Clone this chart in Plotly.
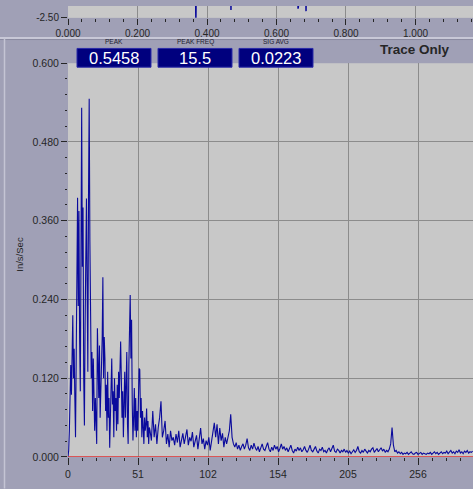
import numpy as np
import plotly.graph_objects as go

# ---------------- data ----------------
# spectrum, fine part (0.5 step from 0 to 59.5)
amp_lo = [
    0.000, 0.010, 0.040, 0.075, 0.140, 0.095, 0.180, 0.216, 0.120, 0.165,
    0.090, 0.030, 0.150, 0.260, 0.395, 0.230, 0.375, 0.180, 0.100, 0.310,
    0.532, 0.290, 0.380, 0.120, 0.048, 0.200, 0.290, 0.394, 0.260, 0.130,
    0.398, 0.5458, 0.330, 0.210, 0.120, 0.160, 0.070, 0.150, 0.110, 0.040,
    0.090, 0.060, 0.020, 0.196, 0.150, 0.090, 0.170, 0.060, 0.100, 0.140,
    0.180, 0.274, 0.120, 0.183, 0.150, 0.070, 0.110, 0.040, 0.130, 0.060,
    0.090, 0.014, 0.060, 0.120, 0.150, 0.080, 0.100, 0.030, 0.120, 0.070,
    0.090, 0.040, 0.110, 0.050, 0.130, 0.090, 0.140, 0.176, 0.120, 0.060,
    0.100, 0.030, 0.080, 0.130, 0.060, 0.100, 0.160, 0.050, 0.020, 0.140,
    0.200, 0.247, 0.150, 0.209, 0.080, 0.025, 0.060, 0.105, 0.040, 0.090,
    0.030, 0.070, 0.040, 0.100, 0.135, 0.133, 0.060, 0.090, 0.030, 0.070,
    0.050, 0.020, 0.060, 0.040, 0.050, 0.074, 0.030, 0.055, 0.020, 0.045,
]
# spectrum, coarse part (1.0 step from 60)
amp_hi = [
    0.040, 0.025, 0.070, 0.030, 0.050, 0.020, 0.045, 0.060, 0.085, 0.030,
    0.040, 0.055, 0.020, 0.035, 0.015, 0.040, 0.025, 0.030, 0.018, 0.035,
    0.022, 0.040, 0.015, 0.028, 0.036, 0.020, 0.030, 0.042, 0.018, 0.030,
    0.024, 0.038, 0.015, 0.026, 0.033, 0.012, 0.030, 0.044, 0.020, 0.028,
    0.012, 0.025, 0.018, 0.030, 0.010, 0.022, 0.040, 0.052, 0.030, 0.050,
    0.020, 0.044, 0.025, 0.036, 0.015, 0.030, 0.020, 0.028, 0.040, 0.065,
    0.030, 0.020, 0.015, 0.022, 0.012, 0.018, 0.010, 0.016, 0.020, 0.012,
    0.018, 0.028, 0.014, 0.010, 0.018, 0.012, 0.021, 0.014, 0.010, 0.016,
    0.008, 0.014, 0.020, 0.012, 0.010, 0.016, 0.022, 0.012, 0.008, 0.015,
    0.010, 0.018, 0.012, 0.016, 0.008, 0.013, 0.020, 0.012, 0.016, 0.010,
    0.014, 0.008, 0.012, 0.018, 0.010, 0.006, 0.012, 0.009, 0.015, 0.010,
    0.014, 0.008, 0.011, 0.016, 0.010, 0.007, 0.012, 0.018, 0.010, 0.008,
    0.012, 0.016, 0.009, 0.006, 0.012, 0.010, 0.015, 0.008, 0.010, 0.006,
    0.011, 0.014, 0.008, 0.012, 0.018, 0.009, 0.007, 0.012, 0.010, 0.006,
    0.010, 0.008, 0.012, 0.007, 0.010, 0.006, 0.009, 0.005, 0.008, 0.011,
    0.007, 0.010, 0.016, 0.008, 0.006, 0.010, 0.007, 0.012, 0.009, 0.006,
    0.010, 0.008, 0.012, 0.014, 0.007, 0.010, 0.013, 0.008, 0.012, 0.014,
    0.009, 0.012, 0.007, 0.010, 0.008, 0.012, 0.020, 0.045, 0.018, 0.008,
    0.010, 0.006, 0.008, 0.005, 0.007, 0.004, 0.006, 0.005, 0.007, 0.004,
    0.006, 0.008, 0.005, 0.004, 0.006, 0.007, 0.004, 0.005, 0.007, 0.004,
    0.006, 0.005, 0.004, 0.006, 0.005, 0.007, 0.004, 0.006, 0.008, 0.005,
    0.007, 0.004, 0.006, 0.008, 0.005, 0.007, 0.006, 0.009, 0.005, 0.007,
    0.010, 0.006, 0.008, 0.005, 0.009, 0.007, 0.011, 0.006, 0.008, 0.005,
    0.009, 0.007, 0.010, 0.006, 0.008, 0.007, 0.009,
]
freq_lo = 0.5 * np.arange(len(amp_lo))
freq_hi = 60 + np.arange(len(amp_hi))

# top time waveform remnant (only the deepest dips are visible)
top_time = [0.0, 0.366, 0.368, 0.370, 0.467, 0.469, 0.471,
            0.660, 0.662, 0.664, 0.683, 0.685, 0.687, 1.2]
top_amp = [-1.0, -1.0, -2.6, -1.0, -1.0, -2.30, -1.0,
           -1.0, -2.27, -1.0, -1.0, -2.33, -1.0, -1.0]

x_tickvals = [0, 51.2, 102.4, 153.6, 204.8, 256]
x_ticktext = ["0", "51", "102", "154", "205", "256"]
top_tickvals = [0.0, 0.2, 0.4, 0.6, 0.8, 1.0]

stat_labels = ["PEAK", "PEAK FREQ", "SIG AVG"]
stat_values = ["0.5458", "15.5", "0.0223"]
mode_text = "Trace Only"
y_title = "In/s/Sec"

# ---------------- layout helpers ----------------
W, H = 473, 489
ML, MR, MT, MB = 68, 0, 0, 32
PW, PH = W - ML - MR, H - MT - MB


def px(x):
    return (x - ML) / PW


def py(y):
    return (H - MB - y) / PH


FONT = "Liberation Sans, Arial, sans-serif"
PANEL = "#A0A0B6"
PLOTBG = "#C8C8C8"
GRID = "#8C8C8C"
TXT = "#262626"
NAVY = "#0A0A9C"

freq = np.concatenate([freq_lo, freq_hi])
amp = np.concatenate([amp_lo, amp_hi])

fig = go.Figure()
fig.add_trace(go.Scatter(x=freq, y=amp, mode="lines",
                         line=dict(color=NAVY, width=1.1),
                         xaxis="x", yaxis="y", hoverinfo="skip"))
fig.add_trace(go.Scatter(x=top_time, y=top_amp, mode="lines",
                         line=dict(color=NAVY, width=1.5),
                         xaxis="x2", yaxis="y2", hoverinfo="skip"))

main_top = py(58)
top_bot = py(12)

axis_common = dict(showgrid=True, gridcolor=GRID, gridwidth=1, zeroline=False,
                   showline=False, ticks="outside", tickcolor=TXT,
                   tickfont=dict(family=FONT, size=10.5, color=TXT))

fig.update_layout(
    width=W, height=H,
    margin=dict(l=ML, r=MR, t=MT, b=MB, pad=0),
    paper_bgcolor=PANEL, plot_bgcolor=PLOTBG,
    showlegend=False,
    xaxis=dict(domain=[0, 1], range=[0, 296.2], anchor="y",
               tickmode="array", tickvals=x_tickvals, ticktext=x_ticktext,
               ticklen=7,
               minor=dict(tick0=0, dtick=10.24, ticklen=3, tickcolor=TXT,
                          ticks="outside", showgrid=False),
               **axis_common),
    yaxis=dict(domain=[0, main_top], range=[0, 0.6], anchor="x",
               tickmode="linear", tick0=0, dtick=0.12, tickformat=".3f",
               ticklen=6,
               minor=dict(tick0=0, dtick=0.024, ticklen=2, tickcolor=TXT,
                          ticks="outside", showgrid=False),
               **axis_common),
    xaxis2=dict(domain=[0, 1], range=[0, 1.1655], anchor="y2",
                tickmode="array", tickvals=top_tickvals, tickformat=".3f",
                ticklen=6,
                minor=dict(tick0=0, dtick=0.04, ticklen=3, tickcolor=TXT,
                           ticks="outside", showgrid=False),
                **{**axis_common, "tickfont": dict(family=FONT, size=10, color=TXT)}),
    yaxis2=dict(domain=[top_bot, 1], range=[-2.5, -2.2], anchor="x2",
                tickmode="array", tickvals=[-2.5], ticktext=["-2.50"],
                ticklen=6, showgrid=False, zeroline=False, ticks="outside",
                tickcolor=TXT, tickfont=dict(family=FONT, size=10, color=TXT)),
)

shapes = []
# red baseline
shapes.append(dict(type="line", xref="x domain", yref="y", x0=0, x1=1, y0=0, y1=0,
                   line=dict(color="#E03030", width=1.5), layer="above"))
# separator between panels
shapes.append(dict(type="line", xref="paper", yref="paper", x0=px(0), x1=px(W),
                   y0=py(32.5), y1=py(32.5), line=dict(color="#D6D6E2", width=1.5)))
shapes.append(dict(type="line", xref="paper", yref="paper", x0=px(0), x1=px(W),
                   y0=py(34), y1=py(34), line=dict(color="#8A8AA0", width=1)))
# left light border of lower panel
shapes.append(dict(type="line", xref="paper", yref="paper", x0=px(4.5), x1=px(4.5),
                   y0=py(33), y1=py(H), line=dict(color="#C4C4D4", width=1.5)))

box_x = [(77, 151), (158, 232), (239, 313)]
annotations = []
for (x0, x1), lab, val in zip(box_x, stat_labels, stat_values):
    shapes.append(dict(type="rect", xref="paper", yref="paper",
                       x0=px(x0), x1=px(x1), y0=py(62), y1=py(43),
                       fillcolor="#00007E", line=dict(color="#2A2AA8", width=1),
                       layer="above"))
    cx = px((x0 + x1) / 2)
    annotations.append(dict(xref="paper", yref="paper", x=cx, y=py(52.5),
                            text=val, showarrow=False,
                            font=dict(family=FONT, size=16.5, color="white"),
                            xanchor="center", yanchor="middle"))
    annotations.append(dict(xref="paper", yref="paper", x=cx, y=py(36),
                            text=lab, showarrow=False,
                            font=dict(family=FONT, size=6.5, color="#202030"),
                            xanchor="center", yanchor="middle"))

annotations.append(dict(xref="paper", yref="paper", x=px(415), y=py(44.5),
                        text="<b>" + mode_text + "</b>", showarrow=False,
                        font=dict(family=FONT, size=13.5, color=TXT),
                        xanchor="center", yanchor="middle"))
annotations.append(dict(xref="paper", yref="paper", x=px(20), y=py(252),
                        text=y_title, textangle=-90, showarrow=False,
                        font=dict(family=FONT, size=9.5, color=TXT),
                        xanchor="center", yanchor="middle"))
# partially visible next tick label of the top axis
annotations.append(dict(xref="paper", yref="paper", x=px(485), y=py(25),
                        text="1.200", showarrow=False,
                        font=dict(family=FONT, size=10, color=TXT),
                        xanchor="center", yanchor="middle"))

fig.update_layout(shapes=shapes, annotations=annotations)
fig.write_html("out.html",
               config={"displayModeBar": False},
               post_script="document.body.style.margin='0';"
                           "document.body.style.overflow='hidden';")
